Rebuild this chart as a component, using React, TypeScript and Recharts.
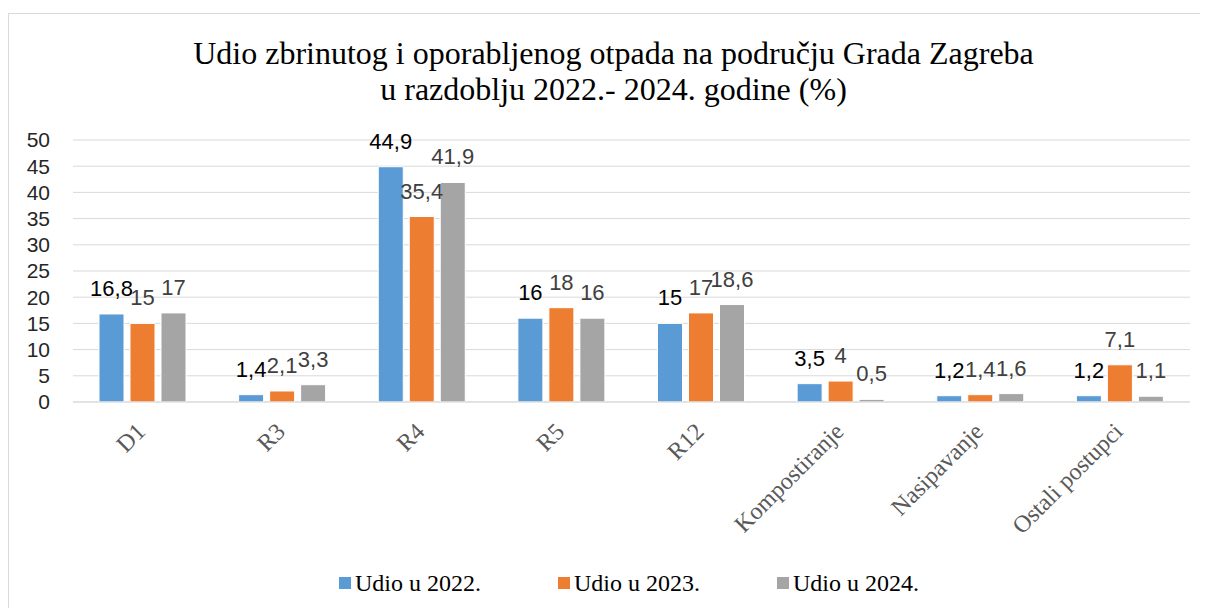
import { BarChart, Bar, XAxis, YAxis, CartesianGrid, Legend, LabelList } from "recharts";

const categories = ["D1", "R3", "R4", "R5", "R12", "Kompostiranje", "Nasipavanje", "Ostali postupci"];
const udio2022 = [16.8, 1.4, 44.9, 16, 15, 3.5, 1.2, 1.2];
const udio2023 = [15, 2.1, 35.4, 18, 17, 4, 1.4, 7.1];
const udio2024 = [17, 3.3, 41.9, 16, 18.6, 0.5, 1.6, 1.1];
const yTicks = [0, 5, 10, 15, 20, 25, 30, 35, 40, 45, 50];
const seriesNames = ["Udio u 2022.", "Udio u 2023.", "Udio u 2024."];
const seriesColors = ["#5B9BD5", "#ED7D31", "#A5A5A5"];
const labelColors = ["#000000", "#404040", "#404040"];

const data = categories.map((name, i) => ({
  name,
  "Udio u 2022.": udio2022[i],
  "Udio u 2023.": udio2023[i],
  "Udio u 2024.": udio2024[i],
}));

const fmt = (v: any) => String(v).replace(".", ",");

const XTick = (props: any) => {
  const { x, y, payload } = props;
  const tx = x + 4;
  const ty = y + 31;
  return (
    <text
      x={tx}
      y={ty}
      transform={`rotate(-45, ${tx}, ${ty})`}
      textAnchor="end"
      fontFamily="'Liberation Serif', serif"
      fontSize={24}
      fill="#595959"
    >
      {payload.value}
    </text>
  );
};

const renderLegend = () => (
  <div style={{ height: 30, display: "flex", paddingLeft: 330 }}>
    {seriesNames.map((name, i) => (
      <div
        key={name}
        style={{
          width: 219,
          display: "flex",
          alignItems: "center",
          height: 30,
          fontFamily: "'Liberation Serif', serif",
          fontSize: 24,
          lineHeight: "30px",
          color: "#000",
        }}
      >
        <span
          style={{
            display: "inline-block",
            width: 12,
            height: 12,
            background: seriesColors[i],
            marginRight: 4,
          }}
        />
        {name}
      </div>
    ))}
  </div>
);

export default function App() {
  return (
    <div
      style={{
        position: "relative",
        marginTop: 5,
        width: 1200,
        height: 595,
        boxSizing: "border-box",
        borderTop: "1px solid #d9d9d9",
        borderLeft: "1px solid #d9d9d9",
        background: "#fff",
      }}
    >
      <div
        style={{
          position: "absolute",
          top: 21,
          left: 0,
          width: 1199,
          paddingLeft: 10,
          boxSizing: "border-box",
          textAlign: "center",
          fontFamily: "'Liberation Serif', serif",
          fontSize: 32,
          lineHeight: "36px",
          color: "#000",
        }}
      >
        Udio zbrinutog i oporabljenog otpada na području Grada Zagreba
        <br />u razdoblju 2022.- 2024. godine (%)
      </div>
      <BarChart
        width={1199}
        height={594}
        data={data}
        margin={{ top: 126, right: 18, left: 0, bottom: 10 }}
        barSize={25}
        barGap={6}
      >
        <CartesianGrid vertical={false} stroke="#d9d9d9" />
        <XAxis
          dataKey="name"
          height={166}
          interval={0}
          tickLine={false}
          tickSize={0}
          tickMargin={0}
          axisLine={{ stroke: "#d9d9d9" }}
          tick={<XTick />}
        />
        <YAxis
          width={64}
          domain={[0, 50]}
          ticks={yTicks}
          interval={0}
          tickLine={false}
          axisLine={false}
          tickSize={0}
          tickMargin={23}
          tick={{ fontFamily: "'Liberation Sans', sans-serif", fontSize: 21, fill: "#262626" }}
        />
        <Legend verticalAlign="bottom" content={renderLegend} />
        {seriesNames.map((name, i) => (
          <Bar
            key={name}
            dataKey={name}
            fill={seriesColors[i]}
            stroke="#ffffff"
            strokeWidth={1}
            isAnimationActive={false}
          >
            <LabelList
              dataKey={name}
              position="top"
              offset={18}
              formatter={fmt}
              style={{ fontFamily: "'Liberation Sans', sans-serif", fontSize: 22, fill: labelColors[i] }}
            />
          </Bar>
        ))}
      </BarChart>
    </div>
  );
}
